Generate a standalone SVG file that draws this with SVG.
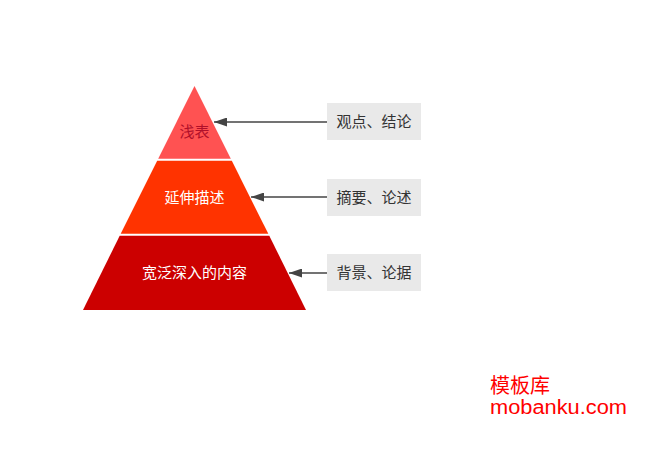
<svg xmlns="http://www.w3.org/2000/svg" width="660" height="450" viewBox="0 0 660 450">
<defs>
<style>
text{font-family:"Liberation Sans","Noto Sans CJK SC",sans-serif;}
.lbl{font-size:15px;text-anchor:middle;}
.box{fill:#E9E9E9;}
.btxt{font-size:15px;fill:#333;text-anchor:middle;}
.conn{stroke:#444;stroke-width:1.5;fill:none;}
.wm{fill:#FF0000;}
</style>
<marker id="ah" viewBox="0 0 13 9" refX="13" refY="4.5" markerWidth="13" markerHeight="9" markerUnits="userSpaceOnUse" orient="auto">
<path d="M0,0 L13,4.5 L0,9 Z" fill="#444"/>
</marker>
</defs>
<rect width="660" height="450" fill="#fff"/>
<g id="top">
<polygon points="194.5,86 230.8,158.8 158.2,158.8" fill="#FF5252"/>
<text class="lbl" x="194.5" y="137" fill="#B0102A">浅表</text>
</g>
<g id="middle">
<polygon points="157.2,160.8 231.8,160.8 268.3,233.8 120.7,233.8" fill="#FF3300"/>
<text class="lbl" x="194.5" y="203" fill="#fff">延伸描述</text>
</g>
<g id="bottom">
<polygon points="119.7,235.8 269.3,235.8 306,310 83,310" fill="#CC0000"/>
<text class="lbl" x="194.5" y="278" fill="#fff">宽泛深入的内容</text>
</g>
<g id="box1">
<rect class="box" x="327" y="103" width="94" height="37"/>
<text class="btxt" x="374" y="127">观点、结论</text>
</g>
<g id="box2">
<rect class="box" x="327" y="179" width="94" height="37"/>
<text class="btxt" x="374" y="203">摘要、论述</text>
</g>
<g id="box3">
<rect class="box" x="327" y="254" width="94" height="37"/>
<text class="btxt" x="374" y="278">背景、论据</text>
</g>
<g id="connectors">
<path class="conn" d="M327,122 L214,122" marker-end="url(#ah)"/>
<path class="conn" d="M327,197 L251,197" marker-end="url(#ah)"/>
<path class="conn" d="M327,273 L289,273" marker-end="url(#ah)"/>
</g>
<g id="watermark">
<text class="wm" x="490" y="393" font-size="20">模板库</text>
<text class="wm" x="490" y="414" font-size="20" textLength="137" lengthAdjust="spacingAndGlyphs">mobanku.com</text>
</g>
</svg>
